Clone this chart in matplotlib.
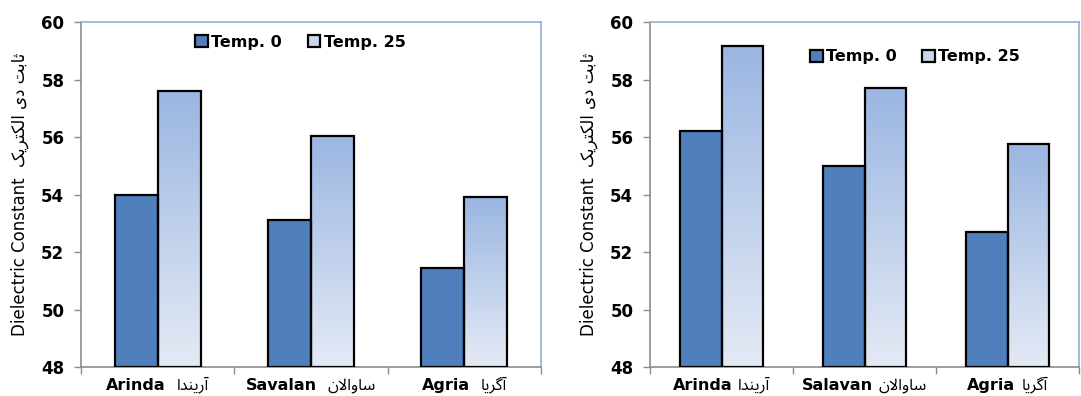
import numpy as np
import matplotlib
matplotlib.use('Agg')
import matplotlib.pyplot as plt
from matplotlib.patches import Patch
from matplotlib.colors import LinearSegmentedColormap

# data
categories_en_left = ['Arinda', 'Savalan', 'Agria']
categories_en_right = ['Arinda', 'Salavan', 'Agria']
# Persian names, pre-shaped (presentation forms, visual order) since matplotlib has no Arabic shaping
categories_fa = ['\uFE8D\uFEAA\uFEE8\uFBFE\uFEAD\uFE81',            # آریندا
                 '\uFEE5\uFEFB\uFE8D\uFEED\uFE8E\uFEB3',            # ساوالان
                 '\uFE8E\uFBFE\uFEAE\uFB94\uFE81']                  # آگریا
ylabel_fa = ('\uFB8F\uFBFE\uFEAE\uFE98\uFB91\uFEDF\uFE8D' + ' ' +
             '\uFBFC\uFEA9' + ' ' + '\uFE96\uFE91\uFE8E\uFE9B')     # ثابت دی الکتریک

left_temp0 = [54.0, 53.1, 51.45]
left_temp25 = [57.6, 56.05, 53.9]
right_temp0 = [56.2, 55.0, 52.7]
right_temp25 = [59.15, 57.7, 55.75]

series_names = ['Temp. 0', 'Temp. 25']
yticks = [48, 50, 52, 54, 56, 58, 60]

FA_FONT = ['Noto Sans Arabic', 'DejaVu Sans']
DARK = '#4F80BC'
GRAD = LinearSegmentedColormap.from_list('g', ['#E4EAF5', '#9BB6E2'])
GREY = '#8C8C8C'
BLUE_EDGE = '#8EB0DC'

fig = plt.figure(figsize=(10.81, 3.96), dpi=100)
ax1 = fig.add_axes([0.0749, 0.0732, 0.4256, 0.8712])
ax2 = fig.add_axes([0.6013, 0.0732, 0.3969, 0.8712])
renderer = fig.canvas.get_renderer()


def draw_panel(ax, t0, t25, names_en, width, leg_pos, gap_px):
    x = np.arange(len(t0))
    ax.bar(x - width / 2, np.array(t0) - 48, width, bottom=48, color=DARK,
           edgecolor='black', linewidth=1.6, zorder=3)
    grad = np.linspace(0, 1, 256).reshape(-1, 1)
    for xi, h in zip(x, t25):
        ax.imshow(grad, cmap=GRAD, origin='lower', aspect='auto',
                  extent=(xi, xi + width, 48, h), zorder=2)
    ax.bar(x + width / 2, np.array(t25) - 48, width, bottom=48, facecolor='none',
           edgecolor='black', linewidth=1.6, zorder=3)

    ax.set_xlim(-0.5, len(t0) - 0.5)
    ax.set_ylim(48, 60)
    ax.set_yticks(yticks)
    ax.set_yticklabels([str(v) for v in yticks], fontweight='bold', fontsize=12)
    ax.set_xticks(np.arange(-0.5, len(t0)))
    ax.set_xticklabels([])
    ax.tick_params(axis='both', direction='out', length=5, color=GREY, width=1)
    ax.tick_params(axis='y', pad=7)

    for s in ['left', 'bottom']:
        ax.spines[s].set_color(GREY)
        ax.spines[s].set_linewidth(1.2)
    for s in ['top', 'right']:
        ax.spines[s].set_color(BLUE_EDGE)
        ax.spines[s].set_linewidth(1.2)

    # category labels: bold latin name + persian name, centred together
    trans = ax.get_xaxis_transform()
    for xi, en, fa in zip(x, names_en, categories_fa):
        t_en = ax.annotate(en, (xi, 0), xycoords=trans, xytext=(0, -13), textcoords='offset points',
                           ha='right', va='center', fontsize=11.5, fontweight='bold')
        t_fa = ax.annotate(fa, (xi, 0), xycoords=trans, xytext=(0, -13), textcoords='offset points',
                           ha='left', va='center', fontsize=11.5, family=FA_FONT)
        w_en = t_en.get_window_extent(renderer).width
        w_fa = t_fa.get_window_extent(renderer).width
        total = w_en + gap_px + w_fa
        x_en = -total / 2 + w_en
        t_en.xyann = (x_en * 0.72, -13)
        t_fa.xyann = ((x_en + gap_px) * 0.72, -13)

    ax.set_ylabel('Dielectric Constant  ' + ylabel_fa, fontsize=12, labelpad=9,
                  family=['DejaVu Sans', 'Noto Sans Arabic'])

    handles = [Patch(facecolor=DARK, edgecolor='black', linewidth=1.6),
               Patch(facecolor='#C8D6EE', edgecolor='black', linewidth=1.6)]
    ax.legend(handles, series_names, loc='center', bbox_to_anchor=leg_pos, ncol=2,
              frameon=False, prop={'weight': 'bold', 'size': 11.5},
              handlelength=0.8, handleheight=0.8, handletextpad=0.2, columnspacing=1.6)


draw_panel(ax1, left_temp0, left_temp25, categories_en_left, 0.28, (0.477, 0.942), 11)
draw_panel(ax2, right_temp0, right_temp25, categories_en_right, 0.29, (0.618, 0.899), 6)

fig.savefig('out.png', dpi=100)
